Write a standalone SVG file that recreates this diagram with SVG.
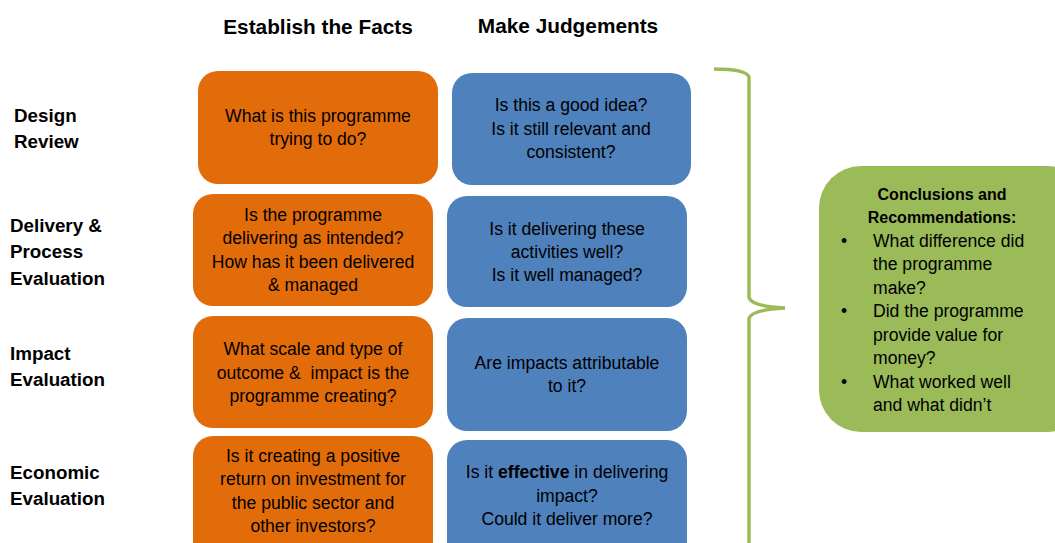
<svg xmlns="http://www.w3.org/2000/svg" width="1055" height="543" viewBox="0 0 1055 543">
<style>
.t{font-family:"Liberation Sans",Arial,sans-serif;font-size:17.6px;fill:#000}
.c{text-anchor:middle}
.h{font-family:"Liberation Sans",Arial,sans-serif;font-size:20.8px;font-weight:bold;fill:#000;text-anchor:middle}
.l{font-family:"Liberation Sans",Arial,sans-serif;font-size:18.8px;font-weight:bold;fill:#000}
.b{font-weight:bold}
.or{fill:#E36C0A}
.bl{fill:#4F81BD}
.gr{fill:#9BBB59}
</style>
<rect width="1055" height="543" fill="#fff"/>
<g id="headers">
<text class="h" x="318" y="34">Establish the Facts</text>
<text class="h" x="568" y="33">Make Judgements</text>
</g>
<g id="row-labels">
<text class="l" x="14" y="122">Design</text>
<text class="l" x="14" y="148">Review</text>
<text class="l" x="10" y="232">Delivery &amp;</text>
<text class="l" x="10" y="258">Process</text>
<text class="l" x="10" y="285">Evaluation</text>
<text class="l" x="10" y="360">Impact</text>
<text class="l" x="10" y="386">Evaluation</text>
<text class="l" x="10" y="479">Economic</text>
<text class="l" x="10" y="505">Evaluation</text>
</g>
<g id="fact-1">
<rect class="or" x="198" y="71" width="240" height="113" rx="20"/>
<text class="t c" x="318" y="122">What is this programme</text>
<text class="t c" x="318" y="145">trying to do?</text>
</g>
<g id="fact-2">
<rect class="or" x="193" y="194" width="240" height="112" rx="20"/>
<text class="t c" x="313" y="221">Is the programme</text>
<text class="t c" x="313" y="244">delivering as intended?</text>
<text class="t c" x="313" y="268">How has it been delivered</text>
<text class="t c" x="313" y="291">&amp; managed</text>
</g>
<g id="fact-3">
<rect class="or" x="193" y="316" width="240" height="112" rx="20"/>
<text class="t c" x="313" y="355">What scale and type of</text>
<text class="t c" x="313" y="379" xml:space="preserve">outcome &amp;  impact is the</text>
<text class="t c" x="313" y="402">programme creating?</text>
</g>
<g id="fact-4">
<rect class="or" x="193" y="436" width="240" height="125" rx="20"/>
<text class="t c" x="313" y="462">Is it creating a positive</text>
<text class="t c" x="313" y="485">return on investment for</text>
<text class="t c" x="313" y="509">the public sector and</text>
<text class="t c" x="313" y="532">other investors?</text>
</g>
<g id="judge-1">
<rect class="bl" x="452" y="73" width="239" height="112" rx="20"/>
<text class="t c" x="571" y="111">Is this a good idea?</text>
<text class="t c" x="571" y="135">Is it still relevant and</text>
<text class="t c" x="571" y="158">consistent?</text>
</g>
<g id="judge-2">
<rect class="bl" x="447" y="196" width="240" height="111" rx="20"/>
<text class="t c" x="567" y="235">Is it delivering these</text>
<text class="t c" x="567" y="258">activities well?</text>
<text class="t c" x="567" y="281">Is it well managed?</text>
</g>
<g id="judge-3">
<rect class="bl" x="447" y="318" width="240" height="113" rx="20"/>
<text class="t c" x="567" y="369">Are impacts attributable</text>
<text class="t c" x="567" y="392">to it?</text>
</g>
<g id="judge-4">
<rect class="bl" x="447" y="440" width="240" height="125" rx="20"/>
<text class="t c" x="567" y="478">Is it <tspan class="b">effective</tspan> in delivering</text>
<text class="t c" x="567" y="502">impact?</text>
<text class="t c" x="567" y="525">Could it deliver more?</text>
</g>
<g id="connectors">
<path d="M714,69 Q746,69 749,77 L749,297 Q750,306 785,308 Q750,310 749,319 L749,545" fill="none" stroke="#9BBB59" stroke-width="3.5"/>
</g>
<g id="conclusions">
<rect class="gr" x="819" y="166" width="270" height="266" rx="42"/>
<text class="t c b" x="942" y="200" style="font-size:16px">Conclusions and</text>
<text class="t c b" x="942" y="223" style="font-size:16px">Recommendations:</text>
<text class="t" x="841" y="247">•</text>
<text class="t" x="873" y="247">What difference did</text>
<text class="t" x="873" y="270">the programme</text>
<text class="t" x="873" y="294">make?</text>
<text class="t" x="841" y="317">•</text>
<text class="t" x="873" y="317">Did the programme</text>
<text class="t" x="873" y="341">provide value for</text>
<text class="t" x="873" y="364">money?</text>
<text class="t" x="841" y="388">•</text>
<text class="t" x="873" y="388">What worked well</text>
<text class="t" x="873" y="411">and what didn’t</text>
</g>
</svg>
